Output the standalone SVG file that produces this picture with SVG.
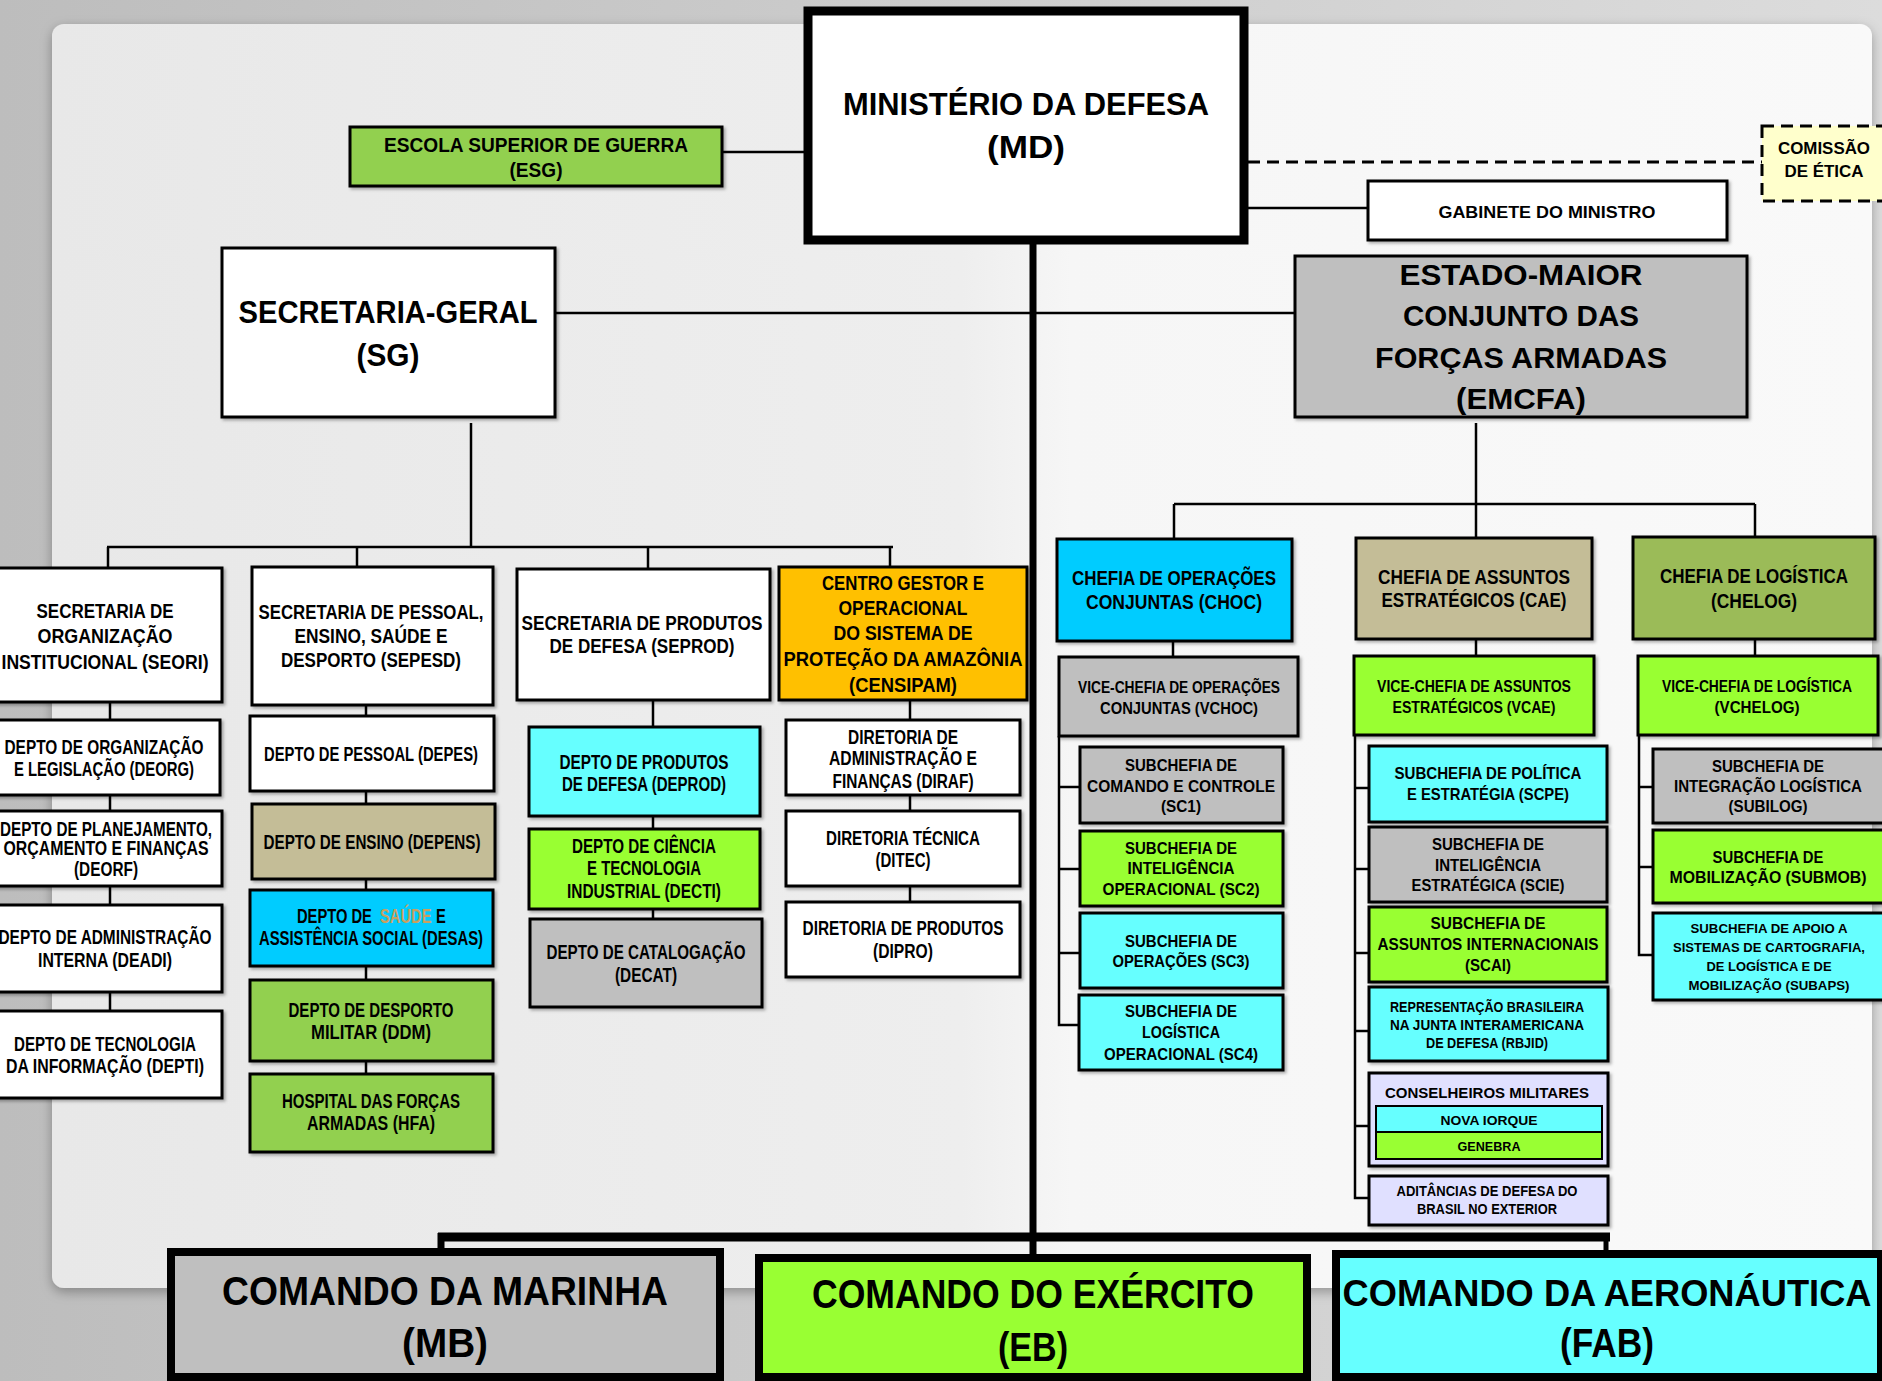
<svg xmlns="http://www.w3.org/2000/svg" width="1882" height="1381" viewBox="0 0 1882 1381">
<defs>
<linearGradient id="bg" x1="0" y1="0" x2="1" y2="0">
<stop offset="0" stop-color="#bdbdbd"/><stop offset="1" stop-color="#dcdcdc"/>
</linearGradient>
<linearGradient id="pg" x1="0" y1="0" x2="1" y2="0">
<stop offset="0" stop-color="#e8e8e8"/><stop offset="0.5" stop-color="#eeeeee"/><stop offset="0.56" stop-color="#f6f6f6"/><stop offset="1" stop-color="#f9f9f9"/>
</linearGradient>
<filter id="sh" x="-5%" y="-5%" width="115%" height="125%">
<feDropShadow dx="2" dy="2" stdDeviation="1.5" flood-color="#000" flood-opacity="0.3"/>
</filter>
<filter id="psh" x="-5%" y="-5%" width="110%" height="110%">
<feDropShadow dx="0" dy="4" stdDeviation="6" flood-color="#000" flood-opacity="0.3"/>
</filter>
</defs>
<style>
.b{stroke:#000;stroke-width:3;filter:url(#sh)}
.bk{stroke:#000;stroke-width:8}
.t{font-family:"Liberation Sans",Arial,sans-serif;font-weight:700;text-anchor:middle;fill:#000}
.ts{font-family:"Liberation Sans",Arial,sans-serif;font-weight:700;text-anchor:start;fill:#000}
.s13{font-size:13px}.s14{font-size:14px}.s15{font-size:15px}.s16{font-size:16px}.s17{font-size:17px}.s20{font-size:20px}.s21{font-size:21px}.s29{font-size:29px}.s32{font-size:32px}.s37{font-size:37px}.s40{font-size:40px}
.c{stroke:#000;stroke-width:2.5;fill:none}
.white{fill:#fff}.gray{fill:#bfbfbf}.lime{fill:#99ff33}.cyan{fill:#66ffff}.sky{fill:#00ccff}.tan{fill:#c4bd97}.olive{fill:#9bbb59}.green{fill:#92d050}.orange{fill:#ffc000}.lav{fill:#e0e0ff}
.hl{fill:#c9a060}
</style>

<rect x="0" y="0" width="1882" height="1381" fill="url(#bg)"/>
<rect x="52" y="24" width="1820" height="1264" rx="12" fill="url(#pg)" filter="url(#psh)"/>

<g id="connectors">
<line class="c" x1="722" y1="152" x2="805" y2="152"/>
<line class="c" x1="1248" y1="208" x2="1368" y2="208"/>
<line x1="1248" y1="162" x2="1762" y2="162" stroke="#000" stroke-width="3" stroke-dasharray="12,7"/>
<line class="c" x1="555" y1="313" x2="1295" y2="313"/>
<line x1="1033" y1="244" x2="1033" y2="1256" stroke="#000" stroke-width="7"/>
<line x1="438" y1="1237" x2="1610" y2="1237" stroke="#000" stroke-width="9"/>
<line x1="441" y1="1233" x2="441" y2="1250" stroke="#000" stroke-width="7"/>
<line x1="1606" y1="1233" x2="1606" y2="1252" stroke="#000" stroke-width="5"/>
<line class="c" x1="471" y1="423" x2="471" y2="547"/>
<line class="c" x1="107" y1="547" x2="893" y2="547"/>
<line class="c" x1="108" y1="547" x2="108" y2="568"/>
<line class="c" x1="357" y1="547" x2="357" y2="567"/>
<line class="c" x1="648" y1="547" x2="648" y2="569"/>
<line class="c" x1="890" y1="547" x2="890" y2="567"/>
<line class="c" x1="110" y1="702" x2="110" y2="1011"/>
<line class="c" x1="366" y1="705" x2="366" y2="1074"/>
<line class="c" x1="653" y1="700" x2="653" y2="919"/>
<line class="c" x1="910" y1="700" x2="910" y2="902"/>
<line class="c" x1="1476" y1="423" x2="1476" y2="538"/>
<line class="c" x1="1174" y1="504" x2="1755" y2="504"/>
<line class="c" x1="1174" y1="504" x2="1174" y2="539"/>
<line class="c" x1="1755" y1="504" x2="1755" y2="537"/>
<line class="c" x1="1173" y1="641" x2="1173" y2="657"/>
<line class="c" x1="1476" y1="639" x2="1476" y2="656"/>
<line class="c" x1="1755" y1="639" x2="1755" y2="656"/>
<polyline class="c" points="1059,736 1059,1025 1080,1025"/>
<line class="c" x1="1059" y1="787" x2="1080" y2="787"/>
<line class="c" x1="1059" y1="869" x2="1080" y2="869"/>
<line class="c" x1="1059" y1="953" x2="1080" y2="953"/>
<polyline class="c" points="1355,735 1355,1198 1369,1198"/>
<line class="c" x1="1355" y1="788" x2="1369" y2="788"/>
<line class="c" x1="1355" y1="869" x2="1369" y2="869"/>
<line class="c" x1="1355" y1="953" x2="1369" y2="953"/>
<line class="c" x1="1355" y1="1031" x2="1369" y2="1031"/>
<line class="c" x1="1355" y1="1126" x2="1369" y2="1126"/>
<polyline class="c" points="1639,735 1639,955 1653,955"/>
<line class="c" x1="1639" y1="787" x2="1653" y2="787"/>
<line class="c" x1="1639" y1="867" x2="1653" y2="867"/>
</g>

<g id="md">
<rect x="808" y="11" width="436" height="229" fill="#fff" stroke="#000" stroke-width="9"/>
<text class="t s32" x="1026" y="115" textLength="366" lengthAdjust="spacingAndGlyphs">MINISTÉRIO DA DEFESA</text>
<text class="t s32" x="1026" y="158" textLength="78" lengthAdjust="spacingAndGlyphs">(MD)</text>
</g>
<g id="esg">
<rect class="b green" x="350" y="127" width="372" height="59"/>
<text class="t s21" x="536" y="152" textLength="304" lengthAdjust="spacingAndGlyphs">ESCOLA SUPERIOR DE GUERRA</text>
<text class="t s21" x="536" y="177" textLength="53" lengthAdjust="spacingAndGlyphs">(ESG)</text>
</g>
<g id="comissao">
<rect x="1762" y="126" width="140" height="75" fill="#ffffcc" stroke="#000" stroke-width="3" stroke-dasharray="12,7"/>
<text class="t s16" x="1824" y="154" textLength="92" lengthAdjust="spacingAndGlyphs">COMISSÃO</text>
<text class="t s16" x="1824" y="177" textLength="79" lengthAdjust="spacingAndGlyphs">DE ÉTICA</text>
</g>
<g id="gabinete">
<rect class="b white" x="1368" y="181" width="359" height="59"/>
<text class="t s17" x="1547" y="218" textLength="217" lengthAdjust="spacingAndGlyphs">GABINETE DO MINISTRO</text>
</g>
<g id="sg">
<rect class="b white" x="222" y="248" width="333" height="169"/>
<text class="t s32" x="388" y="323" textLength="299" lengthAdjust="spacingAndGlyphs">SECRETARIA-GERAL</text>
<text class="t s32" x="388" y="366" textLength="63" lengthAdjust="spacingAndGlyphs">(SG)</text>
</g>
<g id="emcfa">
<rect class="b gray" x="1295" y="256" width="452" height="161"/>
<text class="t s29" x="1521" y="285" textLength="243" lengthAdjust="spacingAndGlyphs">ESTADO-MAIOR</text>
<text class="t s29" x="1521" y="326" textLength="236" lengthAdjust="spacingAndGlyphs">CONJUNTO DAS</text>
<text class="t s29" x="1521" y="368" textLength="292" lengthAdjust="spacingAndGlyphs">FORÇAS ARMADAS</text>
<text class="t s29" x="1521" y="409" textLength="130" lengthAdjust="spacingAndGlyphs">(EMCFA)</text>
</g>

<g id="seori">
<rect class="b white" x="-20" y="568" width="242" height="134"/>
<text class="t s20" x="105" y="618" textLength="137" lengthAdjust="spacingAndGlyphs">SECRETARIA DE</text>
<text class="t s20" x="105" y="643" textLength="135" lengthAdjust="spacingAndGlyphs">ORGANIZAÇÃO</text>
<text class="t s20" x="105" y="669" textLength="207" lengthAdjust="spacingAndGlyphs">INSTITUCIONAL (SEORI)</text>
</g>
<g id="deorg">
<rect class="b white" x="-20" y="720" width="240" height="75"/>
<text class="t s20" x="104" y="754" textLength="199" lengthAdjust="spacingAndGlyphs">DEPTO DE ORGANIZAÇÃO</text>
<text class="t s20" x="104" y="776" textLength="180" lengthAdjust="spacingAndGlyphs">E LEGISLAÇÃO (DEORG)</text>
</g>
<g id="deorf">
<rect class="b white" x="-20" y="811" width="242" height="75"/>
<text class="t s20" x="106" y="836" textLength="212" lengthAdjust="spacingAndGlyphs">DEPTO DE PLANEJAMENTO,</text>
<text class="t s20" x="106" y="855" textLength="205" lengthAdjust="spacingAndGlyphs">ORÇAMENTO  E FINANÇAS</text>
<text class="t s20" x="106" y="876" textLength="64" lengthAdjust="spacingAndGlyphs">(DEORF)</text>
</g>
<g id="deadi">
<rect class="b white" x="-20" y="905" width="242" height="87"/>
<text class="t s20" x="105" y="944" textLength="213" lengthAdjust="spacingAndGlyphs">DEPTO DE ADMINISTRAÇÃO</text>
<text class="t s20" x="105" y="967" textLength="134" lengthAdjust="spacingAndGlyphs">INTERNA (DEADI)</text>
</g>
<g id="depti">
<rect class="b white" x="-20" y="1011" width="242" height="87"/>
<text class="t s20" x="105" y="1051" textLength="182" lengthAdjust="spacingAndGlyphs">DEPTO DE TECNOLOGIA</text>
<text class="t s20" x="105" y="1073" textLength="198" lengthAdjust="spacingAndGlyphs">DA INFORMAÇÃO (DEPTI)</text>
</g>

<g id="sepesd">
<rect class="b white" x="252" y="567" width="241" height="138"/>
<text class="t s20" x="371" y="619" textLength="225" lengthAdjust="spacingAndGlyphs">SECRETARIA DE PESSOAL,</text>
<text class="t s20" x="371" y="643" textLength="153" lengthAdjust="spacingAndGlyphs">ENSINO, SAÚDE E</text>
<text class="t s20" x="371" y="667" textLength="180" lengthAdjust="spacingAndGlyphs">DESPORTO (SEPESD)</text>
</g>
<g id="depes">
<rect class="b white" x="250" y="716" width="244" height="75"/>
<text class="t s20" x="371" y="761" textLength="214" lengthAdjust="spacingAndGlyphs">DEPTO DE PESSOAL (DEPES)</text>
</g>
<g id="depens">
<rect class="b tan" x="252" y="804" width="243" height="75"/>
<text class="t s20" x="372" y="849" textLength="217" lengthAdjust="spacingAndGlyphs">DEPTO DE ENSINO (DEPENS)</text>
</g>
<g id="desas">
<rect class="b sky" x="250" y="890" width="243" height="76"/>
<g transform="translate(297,923) scale(0.735,1)">
<text class="ts s20" x="0" y="0">DEPTO DE</text>
<text class="ts s20 hl" x="113" y="0">SAÚDE</text>
<text class="ts s20" x="189" y="0">E</text>
</g>
<text class="t s20" x="371" y="945" textLength="224" lengthAdjust="spacingAndGlyphs">ASSISTÊNCIA SOCIAL (DESAS)</text>
</g>
<g id="ddm">
<rect class="b green" x="250" y="980" width="243" height="81"/>
<text class="t s20" x="371" y="1017" textLength="165" lengthAdjust="spacingAndGlyphs">DEPTO DE DESPORTO</text>
<text class="t s20" x="371" y="1039" textLength="120" lengthAdjust="spacingAndGlyphs">MILITAR (DDM)</text>
</g>
<g id="hfa">
<rect class="b green" x="250" y="1074" width="243" height="78"/>
<text class="t s20" x="371" y="1108" textLength="178" lengthAdjust="spacingAndGlyphs">HOSPITAL DAS FORÇAS</text>
<text class="t s20" x="371" y="1130" textLength="128" lengthAdjust="spacingAndGlyphs">ARMADAS (HFA)</text>
</g>

<g id="seprod">
<rect class="b white" x="517" y="569" width="253" height="131"/>
<text class="t s20" x="642" y="630" textLength="241" lengthAdjust="spacingAndGlyphs">SECRETARIA DE PRODUTOS</text>
<text class="t s20" x="642" y="653" textLength="185" lengthAdjust="spacingAndGlyphs">DE DEFESA (SEPROD)</text>
</g>
<g id="deprod">
<rect class="b cyan" x="529" y="727" width="231" height="89"/>
<text class="t s20" x="644" y="769" textLength="169" lengthAdjust="spacingAndGlyphs">DEPTO DE PRODUTOS</text>
<text class="t s20" x="644" y="791" textLength="164" lengthAdjust="spacingAndGlyphs">DE DEFESA (DEPROD)</text>
</g>
<g id="decti">
<rect class="b lime" x="529" y="829" width="231" height="80"/>
<text class="t s20" x="644" y="853" textLength="144" lengthAdjust="spacingAndGlyphs">DEPTO DE CIÊNCIA</text>
<text class="t s20" x="644" y="875" textLength="114" lengthAdjust="spacingAndGlyphs">E TECNOLOGIA</text>
<text class="t s20" x="644" y="898" textLength="154" lengthAdjust="spacingAndGlyphs">INDUSTRIAL (DECTI)</text>
</g>
<g id="decat">
<rect class="b gray" x="530" y="919" width="232" height="88"/>
<text class="t s20" x="646" y="959" textLength="199" lengthAdjust="spacingAndGlyphs">DEPTO DE CATALOGAÇÃO</text>
<text class="t s20" x="646" y="982" textLength="62" lengthAdjust="spacingAndGlyphs">(DECAT)</text>
</g>

<g id="censipam">
<rect class="b orange" x="779" y="567" width="248" height="133"/>
<text class="t s20" x="903" y="590" textLength="162" lengthAdjust="spacingAndGlyphs">CENTRO GESTOR E</text>
<text class="t s20" x="903" y="615" textLength="129" lengthAdjust="spacingAndGlyphs">OPERACIONAL</text>
<text class="t s20" x="903" y="640" textLength="139" lengthAdjust="spacingAndGlyphs">DO SISTEMA DE</text>
<text class="t s20" x="903" y="666" textLength="239" lengthAdjust="spacingAndGlyphs">PROTEÇÃO  DA AMAZÔNIA</text>
<text class="t s20" x="903" y="692" textLength="108" lengthAdjust="spacingAndGlyphs">(CENSIPAM)</text>
</g>
<g id="diraf">
<rect class="b white" x="786" y="720" width="234" height="75"/>
<text class="t s20" x="903" y="744" textLength="110" lengthAdjust="spacingAndGlyphs">DIRETORIA DE</text>
<text class="t s20" x="903" y="765" textLength="148" lengthAdjust="spacingAndGlyphs">ADMINISTRAÇÃO E</text>
<text class="t s20" x="903" y="788" textLength="141" lengthAdjust="spacingAndGlyphs">FINANÇAS (DIRAF)</text>
</g>
<g id="ditec">
<rect class="b white" x="786" y="811" width="234" height="75"/>
<text class="t s20" x="903" y="845" textLength="154" lengthAdjust="spacingAndGlyphs">DIRETORIA TÉCNICA</text>
<text class="t s20" x="903" y="867" textLength="55" lengthAdjust="spacingAndGlyphs">(DITEC)</text>
</g>
<g id="dipro">
<rect class="b white" x="786" y="902" width="234" height="75"/>
<text class="t s20" x="903" y="935" textLength="201" lengthAdjust="spacingAndGlyphs">DIRETORIA DE PRODUTOS</text>
<text class="t s20" x="903" y="958" textLength="60" lengthAdjust="spacingAndGlyphs">(DIPRO)</text>
</g>

<g id="choc">
<rect class="b sky" x="1057" y="539" width="235" height="102"/>
<text class="t s20" x="1174" y="585" textLength="204" lengthAdjust="spacingAndGlyphs">CHEFIA DE OPERAÇÕES</text>
<text class="t s20" x="1174" y="609" textLength="176" lengthAdjust="spacingAndGlyphs">CONJUNTAS (CHOC)</text>
</g>
<g id="cae">
<rect class="b tan" x="1356" y="538" width="236" height="101"/>
<text class="t s20" x="1474" y="584" textLength="192" lengthAdjust="spacingAndGlyphs">CHEFIA DE ASSUNTOS</text>
<text class="t s20" x="1474" y="607" textLength="185" lengthAdjust="spacingAndGlyphs">ESTRATÉGICOS (CAE)</text>
</g>
<g id="chelog">
<rect class="b olive" x="1633" y="537" width="242" height="102"/>
<text class="t s20" x="1754" y="583" textLength="188" lengthAdjust="spacingAndGlyphs">CHEFIA DE LOGÍSTICA</text>
<text class="t s20" x="1754" y="608" textLength="86" lengthAdjust="spacingAndGlyphs">(CHELOG)</text>
</g>
<g id="vchoc">
<rect class="b gray" x="1059" y="657" width="239" height="79"/>
<text class="t s17" x="1179" y="693" textLength="202" lengthAdjust="spacingAndGlyphs">VICE-CHEFIA DE OPERAÇÕES</text>
<text class="t s17" x="1179" y="714" textLength="158" lengthAdjust="spacingAndGlyphs">CONJUNTAS (VCHOC)</text>
</g>
<g id="vcae">
<rect class="b lime" x="1354" y="656" width="240" height="79"/>
<text class="t s17" x="1474" y="692" textLength="194" lengthAdjust="spacingAndGlyphs">VICE-CHEFIA DE ASSUNTOS</text>
<text class="t s17" x="1474" y="713" textLength="163" lengthAdjust="spacingAndGlyphs">ESTRATÉGICOS (VCAE)</text>
</g>
<g id="vchelog">
<rect class="b lime" x="1638" y="656" width="240" height="79"/>
<text class="t s16" x="1757" y="692" textLength="190" lengthAdjust="spacingAndGlyphs">VICE-CHEFIA DE LOGÍSTICA</text>
<text class="t s17" x="1757" y="713" textLength="85" lengthAdjust="spacingAndGlyphs">(VCHELOG)</text>
</g>

<g id="sc1">
<rect class="b gray" x="1080" y="747" width="203" height="76"/>
<text class="t s17" x="1181" y="771" textLength="112" lengthAdjust="spacingAndGlyphs">SUBCHEFIA DE</text>
<text class="t s17" x="1181" y="792" textLength="188" lengthAdjust="spacingAndGlyphs">COMANDO E CONTROLE</text>
<text class="t s17" x="1181" y="812" textLength="40" lengthAdjust="spacingAndGlyphs">(SC1)</text>
</g>
<g id="sc2">
<rect class="b lime" x="1080" y="831" width="203" height="75"/>
<text class="t s17" x="1181" y="854" textLength="112" lengthAdjust="spacingAndGlyphs">SUBCHEFIA DE</text>
<text class="t s17" x="1181" y="874" textLength="107" lengthAdjust="spacingAndGlyphs">INTELIGÊNCIA</text>
<text class="t s17" x="1181" y="895" textLength="157" lengthAdjust="spacingAndGlyphs">OPERACIONAL (SC2)</text>
</g>
<g id="sc3">
<rect class="b cyan" x="1080" y="913" width="203" height="75"/>
<text class="t s17" x="1181" y="947" textLength="112" lengthAdjust="spacingAndGlyphs">SUBCHEFIA DE</text>
<text class="t s17" x="1181" y="967" textLength="137" lengthAdjust="spacingAndGlyphs">OPERAÇÕES (SC3)</text>
</g>
<g id="sc4">
<rect class="b cyan" x="1079" y="995" width="204" height="75"/>
<text class="t s17" x="1181" y="1017" textLength="112" lengthAdjust="spacingAndGlyphs">SUBCHEFIA DE</text>
<text class="t s17" x="1181" y="1038" textLength="78" lengthAdjust="spacingAndGlyphs">LOGÍSTICA</text>
<text class="t s17" x="1181" y="1060" textLength="154" lengthAdjust="spacingAndGlyphs">OPERACIONAL (SC4)</text>
</g>

<g id="scpe">
<rect class="b cyan" x="1369" y="746" width="238" height="76"/>
<text class="t s17" x="1488" y="779" textLength="187" lengthAdjust="spacingAndGlyphs">SUBCHEFIA DE POLÍTICA</text>
<text class="t s17" x="1488" y="800" textLength="162" lengthAdjust="spacingAndGlyphs">E ESTRATÉGIA (SCPE)</text>
</g>
<g id="scie">
<rect class="b gray" x="1369" y="827" width="238" height="75"/>
<text class="t s17" x="1488" y="850" textLength="112" lengthAdjust="spacingAndGlyphs">SUBCHEFIA DE</text>
<text class="t s17" x="1488" y="871" textLength="106" lengthAdjust="spacingAndGlyphs">INTELIGÊNCIA</text>
<text class="t s17" x="1488" y="891" textLength="153" lengthAdjust="spacingAndGlyphs">ESTRATÉGICA (SCIE)</text>
</g>
<g id="scai">
<rect class="b lime" x="1369" y="907" width="238" height="75"/>
<text class="t s17" x="1488" y="929" textLength="115" lengthAdjust="spacingAndGlyphs">SUBCHEFIA  DE</text>
<text class="t s17" x="1488" y="950" textLength="221" lengthAdjust="spacingAndGlyphs">ASSUNTOS INTERNACIONAIS</text>
<text class="t s17" x="1488" y="971" textLength="46" lengthAdjust="spacingAndGlyphs">(SCAI)</text>
</g>
<g id="rbjid">
<rect class="b cyan" x="1369" y="987" width="239" height="74"/>
<text class="t s14" x="1487" y="1012" textLength="194" lengthAdjust="spacingAndGlyphs">REPRESENTAÇÃO BRASILEIRA</text>
<text class="t s14" x="1487" y="1030" textLength="194" lengthAdjust="spacingAndGlyphs">NA JUNTA INTERAMERICANA</text>
<text class="t s14" x="1487" y="1048" textLength="122" lengthAdjust="spacingAndGlyphs">DE DEFESA (RBJID)</text>
</g>
<g id="conselheiros">
<rect class="b lav" x="1369" y="1073" width="239" height="93"/>
<text class="t s15" x="1487" y="1098" textLength="204" lengthAdjust="spacingAndGlyphs">CONSELHEIROS MILITARES</text>
<rect class="cyan" x="1376" y="1106" width="226" height="26" stroke="#000" stroke-width="2"/>
<text class="t s13" x="1489" y="1125" textLength="97" lengthAdjust="spacingAndGlyphs">NOVA IORQUE</text>
<rect class="lime" x="1376" y="1132" width="226" height="27" stroke="#000" stroke-width="2"/>
<text class="t s13" x="1489" y="1151" textLength="63" lengthAdjust="spacingAndGlyphs">GENEBRA</text>
</g>
<g id="aditancias">
<rect class="b lav" x="1369" y="1176" width="239" height="49"/>
<text class="t s14" x="1487" y="1196" textLength="181" lengthAdjust="spacingAndGlyphs">ADITÂNCIAS DE DEFESA DO</text>
<text class="t s14" x="1487" y="1214" textLength="140" lengthAdjust="spacingAndGlyphs">BRASIL NO EXTERIOR</text>
</g>

<g id="subilog">
<rect class="b gray" x="1653" y="749" width="240" height="74"/>
<text class="t s17" x="1768" y="772" textLength="112" lengthAdjust="spacingAndGlyphs">SUBCHEFIA DE</text>
<text class="t s17" x="1768" y="792" textLength="188" lengthAdjust="spacingAndGlyphs">INTEGRAÇÃO LOGÍSTICA</text>
<text class="t s17" x="1768" y="812" textLength="79" lengthAdjust="spacingAndGlyphs">(SUBILOG)</text>
</g>
<g id="submob">
<rect class="b lime" x="1653" y="830" width="240" height="73"/>
<text class="t s17" x="1768" y="863" textLength="111" lengthAdjust="spacingAndGlyphs">SUBCHEFIA DE</text>
<text class="t s17" x="1768" y="883" textLength="197" lengthAdjust="spacingAndGlyphs">MOBILIZAÇÃO (SUBMOB)</text>
</g>
<g id="subaps">
<rect class="b cyan" x="1653" y="913" width="240" height="87"/>
<text class="t s13" x="1769" y="933" textLength="157" lengthAdjust="spacingAndGlyphs">SUBCHEFIA DE APOIO A</text>
<text class="t s13" x="1769" y="952" textLength="192" lengthAdjust="spacingAndGlyphs">SISTEMAS DE CARTOGRAFIA,</text>
<text class="t s13" x="1769" y="971" textLength="125" lengthAdjust="spacingAndGlyphs">DE LOGÍSTICA E DE</text>
<text class="t s13" x="1769" y="990" textLength="161" lengthAdjust="spacingAndGlyphs">MOBILIZAÇÃO (SUBAPS)</text>
</g>

<g id="mb">
<rect class="bk gray" x="171" y="1252" width="549" height="125"/>
<text class="t s40" x="445" y="1305" textLength="446" lengthAdjust="spacingAndGlyphs">COMANDO DA MARINHA</text>
<text class="t s40" x="445" y="1357" textLength="86" lengthAdjust="spacingAndGlyphs">(MB)</text>
</g>
<g id="eb">
<rect class="bk lime" x="759" y="1258" width="548" height="119"/>
<text class="t s40" x="1033" y="1308" textLength="442" lengthAdjust="spacingAndGlyphs">COMANDO DO EXÉRCITO</text>
<text class="t s40" x="1033" y="1361" textLength="70" lengthAdjust="spacingAndGlyphs">(EB)</text>
</g>
<g id="fab">
<rect class="bk cyan" x="1336" y="1254" width="545" height="123"/>
<text class="t s37" x="1607" y="1306" textLength="529" lengthAdjust="spacingAndGlyphs">COMANDO DA AERONÁUTICA</text>
<text class="t s40" x="1607" y="1357" textLength="94" lengthAdjust="spacingAndGlyphs">(FAB)</text>
</g>
</svg>
